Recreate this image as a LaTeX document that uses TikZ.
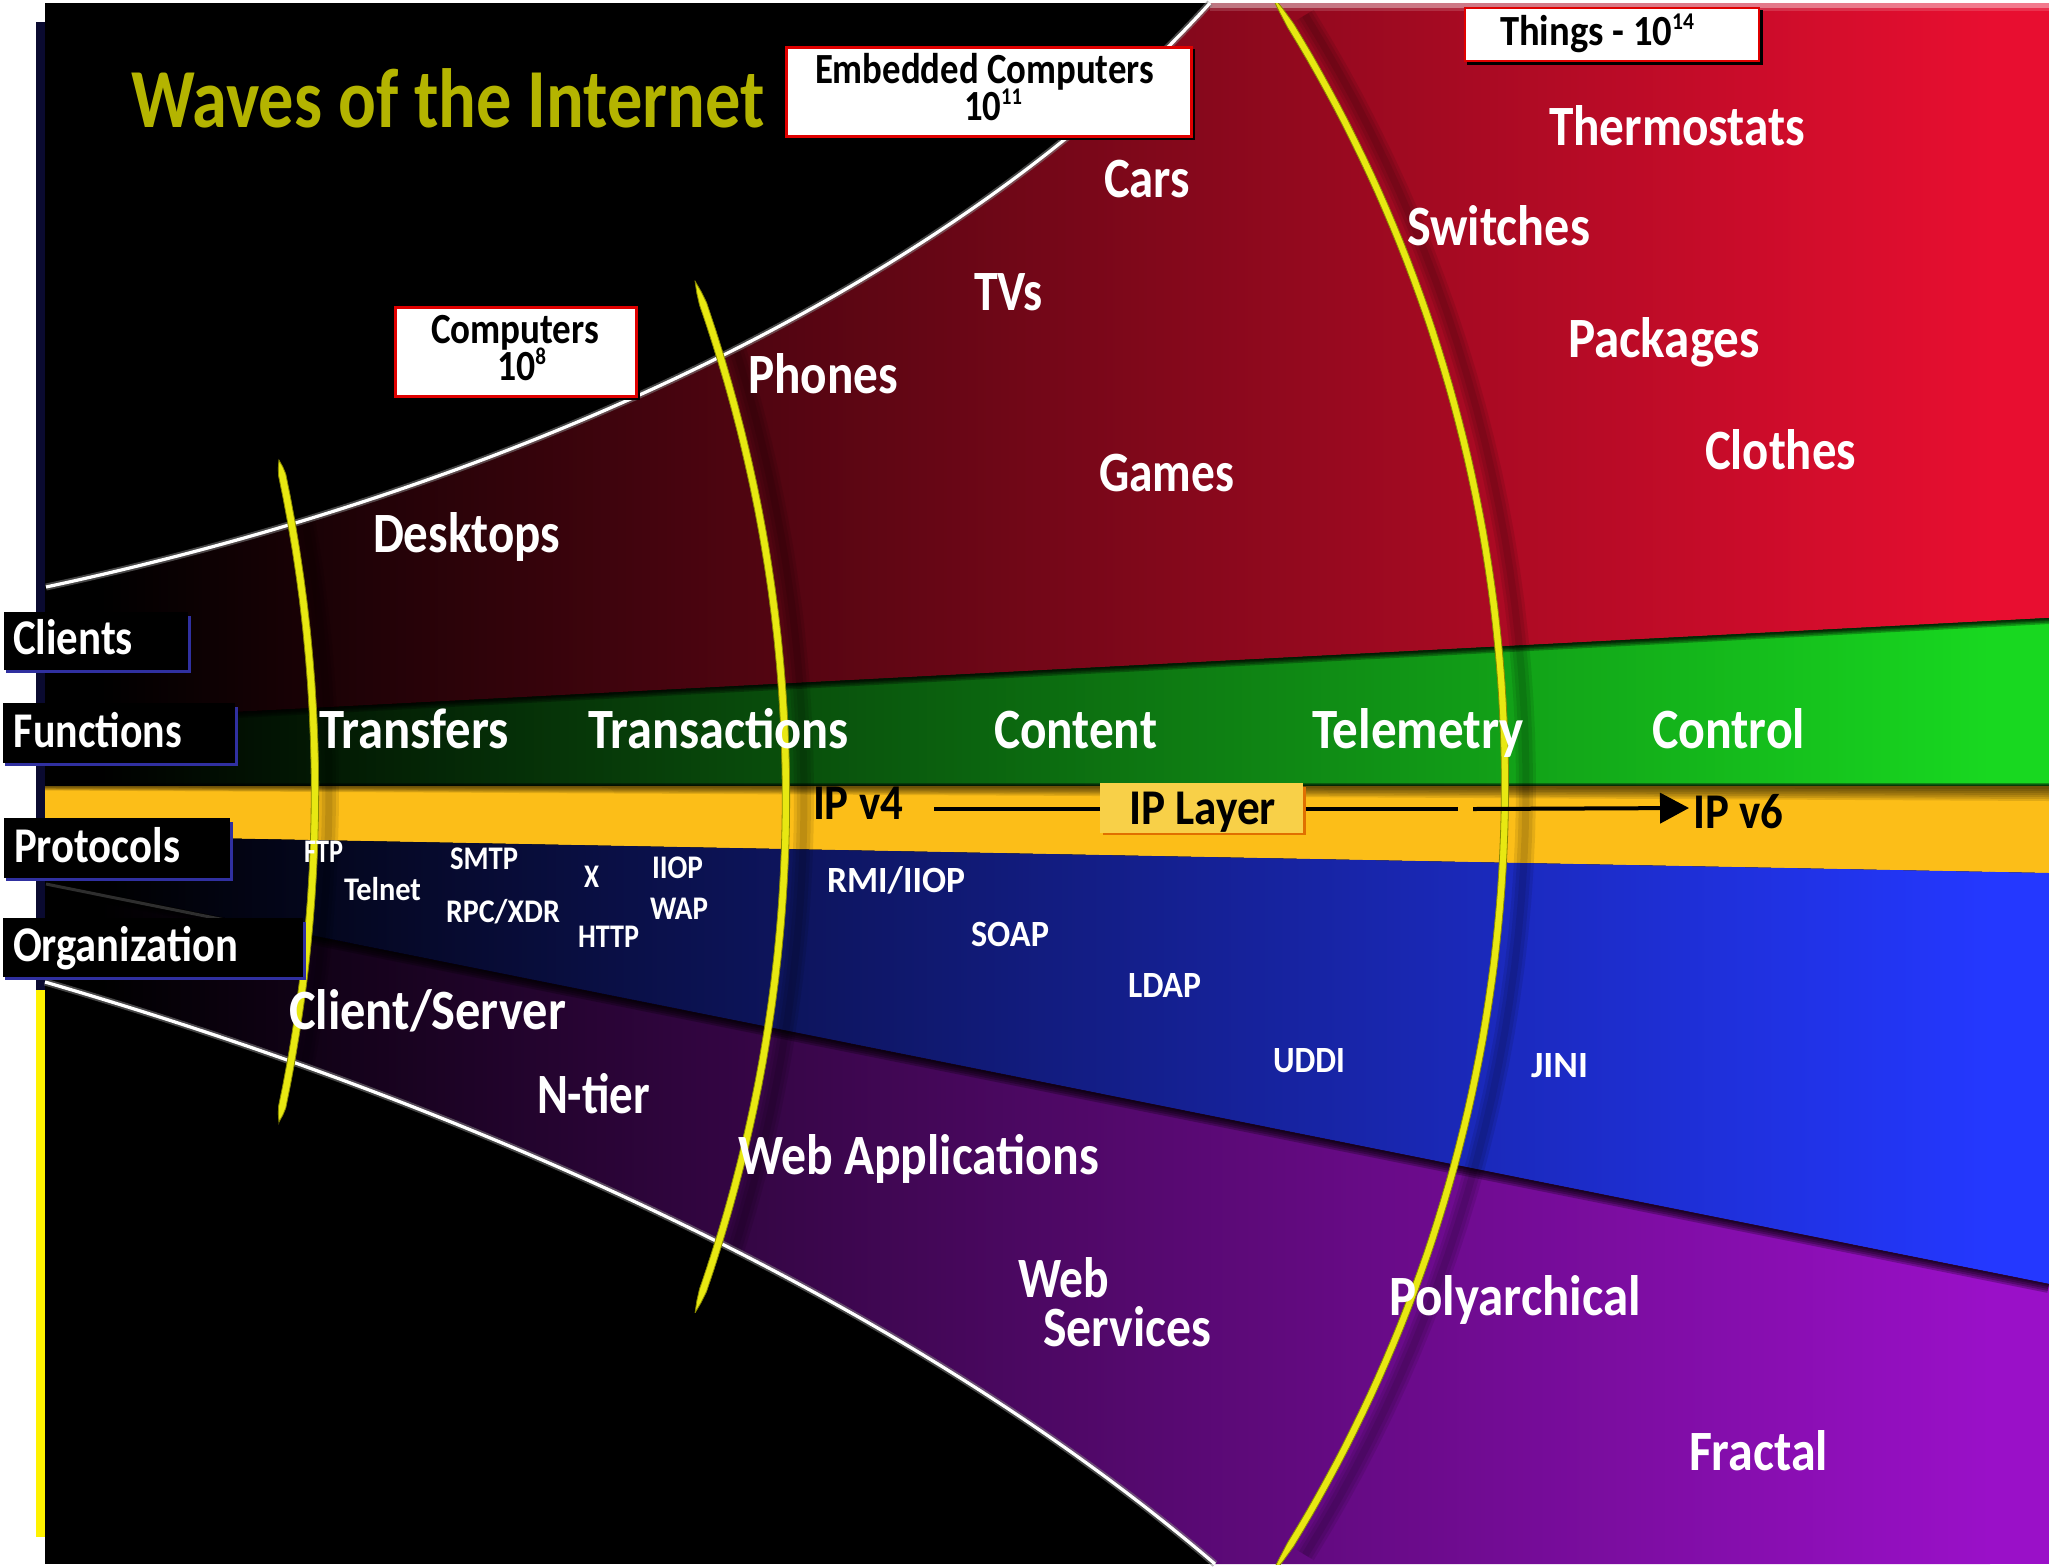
\documentclass[tikz,border=0pt]{standalone}
\usepackage{graphicx}
\usepackage{fontspec}
\setmainfont{Carlito}
\usetikzlibrary{arrows.meta}
\definecolor{redend}{HTML}{E80E30}
\definecolor{greenend}{HTML}{18D820}
\definecolor{blueend}{HTML}{2438FF}
\definecolor{purpleend}{HTML}{9A10C8}
\definecolor{ipyellow}{HTML}{FCBE18}
\definecolor{ipbox}{HTML}{F8D048}
\definecolor{ipshadow}{HTML}{E07000}
\definecolor{titleol}{HTML}{B4B400}
\definecolor{arcyellow}{HTML}{E8E812}
\definecolor{arcedge}{HTML}{8A8A00}
\definecolor{labelblue}{HTML}{3030A0}
\definecolor{stripnavy}{HTML}{0A0A30}
\definecolor{boxred}{HTML}{E00000}
\newcommand\lbl[7]{\node[anchor=base west,inner sep=0pt,outer sep=0pt,text=#6] (#1) at (#2,#3) {\resizebox{#4pt}{\height}{\fontsize{#5}{#5}\selectfont\bfseries #7}};}
\newcommand\supr[1]{\raisebox{.36em}{\fontsize{24}{24}\selectfont #1}}
\def\topcurve{(46,587) .. controls (500,490) and (950,290) .. (1210,3)}
\def\lowcurve{(45,982) .. controls (450,1100) and (895,1290) .. (1215,1564)}
% centre x, centre y, radius, half angle, half width
\newcommand\lens[5]{\draw[arcbody]
  plot[domain=-#4:#4,samples=90,variable=\t] ({#1+(#3+#5*min(1,14*(1-(\t/#4)*(\t/#4))))*cos(\t)},{#2+(#3+#5*min(1,14*(1-(\t/#4)*(\t/#4))))*sin(\t)})
  -- plot[domain=#4:-#4,samples=90,variable=\t] ({#1+(#3-#5*min(1,14*(1-(\t/#4)*(\t/#4))))*cos(\t)},{#2+(#3-#5*min(1,14*(1-(\t/#4)*(\t/#4))))*sin(\t)}) -- cycle;}
\newcommand\lensshade[4]{\foreach \w in {7,14,20}{\draw[arcshade,line width=\w pt]
  plot[domain=-#4:#4,samples=50,variable=\t] ({#1+#3*cos(\t)},{#2+#3*sin(\t)});}}
\tikzset{
  bandshade/.style={left color=black,right color=#1},
  whiteedge/.style={white,line width=3.2pt},
  greyedge/.style={gray,opacity=.55,line width=7pt},
  arcbody/.style={fill=arcyellow,draw=arcedge,line width=.8pt},
  arcshade/.style={draw=black,opacity=.09},
  infobox/.style={fill=white,draw=boxred,line width=3pt},
  dropbox/.style={fill=black},
  sidebox/.style={fill=black},
  sideedge/.style={fill=labelblue},
  ipline/.style={black,line width=4pt}
}
\begin{document}
\begin{tikzpicture}[x=1pt,y=-1pt]
\useasboundingbox (0,0) rectangle (2049,1567);
\fill[white] (0,0) rectangle (2049,1567);
% base
\fill[stripnavy] (36,22) rectangle (46,990);
\fill[black] (45,3) rectangle (2049,1564);
\fill[yellow] (36,990) rectangle (45,1537);
% red band
\begin{scope}
\clip \topcurve -- (2049,3) -- (2049,618) -- (45,722) -- cycle;
\shade[bandshade=redend] (100,3) rectangle (1990,1564);
\fill[redend] (1989,3) rectangle (2049,1564);
\fill[white,opacity=.45] (1210,3) rectangle (2049,8);
\fill[white,opacity=.15] (1210,8) rectangle (2049,11);
\end{scope}
% green band
\begin{scope}
\clip (45,722) -- (2049,618) -- (2049,786) -- (45,786) -- cycle;
\shade[bandshade=greenend] (100,3) rectangle (1990,1564);
\fill[greenend] (1989,3) rectangle (2049,1564);
\foreach \w in {2,4,6,9,12}{\draw[black,opacity=.28,line width=\w pt] (45,722) -- (2049,618);}
\foreach \w in {2,4,6}{\draw[black,opacity=.35,line width=\w pt] (45,786) -- (2049,786);}
\end{scope}
% yellow band
\begin{scope}
\clip (45,786) -- (2049,786) -- (2049,873) -- (45,835) -- cycle;
\fill[ipyellow] (45,780) rectangle (2049,880);
\foreach \k in {3,5,7,9,11,13,15}{\fill[black,opacity=.11] (45,786) -- (2049,786) -- (2049,786+\k) -- (45,786+\k*.3) -- cycle;}
\end{scope}
% blue band
\begin{scope}
\clip (45,835) -- (2049,873) -- (2049,1284) -- (45,882) -- cycle;
\shade[bandshade=blueend] (100,3) rectangle (1990,1564);
\fill[blueend] (1989,3) rectangle (2049,1564);
\end{scope}
% purple band
\begin{scope}
\clip \lowcurve -- (2049,1564) -- (2049,1284) -- (45,882) -- cycle;
\shade[bandshade=purpleend] (100,3) rectangle (1990,1564);
\fill[purpleend] (1989,3) rectangle (2049,1564);
\foreach \w in {3,6,10,14,18}{\draw[black,opacity=.25,line width=\w pt] (45,882) -- (2049,1284);}
\draw[white,opacity=.18,line width=3pt] (46,884) -- (225,920);
\end{scope}
% arc shadows
\begin{scope}
\clip (45,3) rectangle (2049,1564);
\lensshade{-1211}{791}{1540}{11}
\lensshade{-704}{797}{1508}{18}
\lensshade{73}{785}{1453}{32}
\end{scope}
% white envelope curves
\draw[greyedge] \topcurve;
\draw[whiteedge] \topcurve;
\draw[greyedge] \lowcurve;
\draw[whiteedge] \lowcurve;
% arcs
\begin{scope}
\clip (45,3) rectangle (2049,1564);
\lens{-1225}{791}{1540}{12.41}{3.7}
\lens{-722}{797}{1508}{20}{3.7}
\lens{52}{785}{1453}{33}{3.6}
\end{scope}
% info boxes
\fill[dropbox] (788,49) rectangle (1195,140);
\draw[infobox] (786,47) rectangle (1191,136);
\fill[dropbox] (397,309) rectangle (640,400);
\draw[infobox] (395,307) rectangle (636,396);
\fill[dropbox] (1467,10) rectangle (1763,65);
\draw[infobox,line width=2pt] (1465,8) rectangle (1759,61);
% side labels
\fill[sideedge] (6,616) rectangle (191,673);
\fill[sidebox] (4,612) rectangle (188,670);
\fill[sideedge] (5,707) rectangle (238,766);
\fill[sidebox] (3,703) rectangle (235,763);
\fill[sideedge] (6,822) rectangle (233,881);
\fill[sidebox] (4,818) rectangle (230,878);
\fill[sideedge] (5,922) rectangle (306,980);
\fill[sidebox] (3,918) rectangle (303,977);
% IP layer box
\fill[ipshadow] (1103,787) rectangle (1306,835);
\fill[ipbox] (1100,783) rectangle (1303,833);
% texts
\lbl{title}{131}{127}{634}{84}{titleol}{Waves of the Internet}
\lbl{embA}{815}{83}{339}{43}{black}{Embedded Computers}
\lbl{embB}{964}{120}{58}{43}{black}{10\supr{11}}
\lbl{compA}{431}{343}{168}{43}{black}{Computers}
\lbl{compB}{497}{380}{49}{43}{black}{10\supr{8}}
\lbl{things}{1500}{45}{194}{43}{black}{Things - 10\supr{14}}
\lbl{thermo}{1549}{145}{256}{57}{white}{Thermostats}
\lbl{switches}{1407}{245}{183}{57}{white}{Switches}
\lbl{packages}{1568}{357}{192}{57}{white}{Packages}
\lbl{clothes}{1705}{469}{151}{57}{white}{Clothes}
\lbl{cars}{1104}{197}{86}{57}{white}{Cars}
\lbl{tvs}{974}{310}{69}{57}{white}{TVs}
\lbl{phones}{748}{393}{150}{57}{white}{Phones}
\lbl{games}{1099}{491}{135}{57}{white}{Games}
\lbl{desktops}{373}{552}{187}{57}{white}{Desktops}
\lbl{transfers}{319}{748}{190}{57}{white}{Transfers}
\lbl{transactions}{588}{748}{261}{57}{white}{Transactions}
\lbl{content}{994}{748}{163}{57}{white}{Content}
\lbl{telemetry}{1312}{748}{212}{57}{white}{Telemetry}
\lbl{control}{1652}{748}{153}{57}{white}{Control}
\lbl{ipfour}{813}{819}{90}{50}{black}{IP v4}
\lbl{ipsix}{1693}{828}{90}{50}{black}{IP v6}
\lbl{iplayer}{1129}{824}{147}{50}{black}{IP Layer}
\lbl{ftp}{304}{862}{39}{33}{white}{FTP}
\lbl{telnet}{344}{900}{77}{33}{white}{Telnet}
\lbl{smtp}{450}{869}{68}{33}{white}{SMTP}
\lbl{rpc}{446}{922}{114}{33}{white}{RPC/XDR}
\lbl{xproto}{584}{887}{15}{33}{white}{X}
\lbl{http}{578}{947}{61}{33}{white}{HTTP}
\lbl{iiop}{652}{878}{51}{33}{white}{IIOP}
\lbl{wap}{650}{919}{58}{33}{white}{WAP}
\lbl{rmi}{827}{892}{138}{37}{white}{RMI/IIOP}
\lbl{soap}{971}{946}{78}{37}{white}{SOAP}
\lbl{ldap}{1128}{997}{73}{37}{white}{LDAP}
\lbl{uddi}{1273}{1072}{72}{37}{white}{UDDI}
\lbl{jini}{1531}{1077}{57}{37}{white}{JINI}
\lbl{clientserver}{289}{1029}{277}{57}{white}{Client/Server}
\lbl{ntier}{537}{1113}{113}{57}{white}{N-tier}
\lbl{webapps}{738}{1174}{361}{57}{white}{Web Applications}
\lbl{web}{1018}{1297}{91}{57}{white}{Web}
\lbl{services}{1043}{1346}{168}{57}{white}{Services}
\lbl{poly}{1389}{1315}{252}{57}{white}{Polyarchical}
\lbl{fractal}{1689}{1470}{139}{57}{white}{Fractal}
\lbl{clients}{13}{654}{120}{50}{white}{Clients}
\lbl{functions}{14}{747}{168}{50}{white}{Functions}
\lbl{protocols}{14}{862}{166}{50}{white}{Protocols}
\lbl{organization}{13}{961}{225}{50}{white}{Organization}
% IP connectors
\coordinate (lineA) at (934,809);
\coordinate (layerW) at (1100,809);
\coordinate (layerE) at (1306,809);
\coordinate (lineB) at (1458,809);
\coordinate (lineC) at (1473,809);
\coordinate (tip) at (1689,808);
\draw[ipline] (lineA) -- (layerW);
\draw[ipline] (layerE) -- (lineB);
\draw[ipline,-{Triangle[length=29pt,width=30pt]}] (lineC) -- (tip);
\end{tikzpicture}
\end{document}
